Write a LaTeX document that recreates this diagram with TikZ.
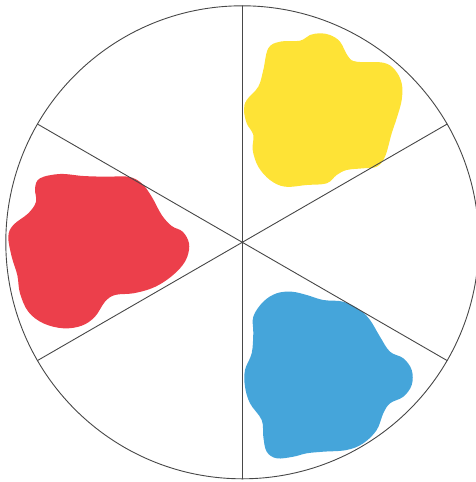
\documentclass[tikz,border=0pt]{standalone}
\usetikzlibrary{calc}
\definecolor{wheel}{HTML}{474747}
\definecolor{yellowb}{HTML}{FEE336}
\definecolor{redb}{HTML}{EC3F4B}
\definecolor{blueb}{HTML}{45A5DA}
\tikzset{
  blob/.style={draw=none},
  spoke/.style={wheel,line width=0.9pt},
}
\begin{document}
\begin{tikzpicture}[x=1pt,y=-1pt,line cap=round,line join=round]
  \useasboundingbox (0,0) rectangle (476,482);
  \coordinate (c) at (242.3,242.3);

  % paint blobs
  \fill[yellowb,blob] plot[smooth cycle,tension=0.6] coordinates {
    (320,33.3) (310,35) (300,40.7) (280,41.7) (268.3,48.3) (263.3,70)
    (258.3,86.7) (246.7,100) (244,110) (246.7,123.3) (253.3,135)
    (252.7,150) (258.3,166.7) (270,180) (285,186.7) (306.7,185)
    (326.7,183.3) (336.7,175) (346.7,170) (363.3,168.3) (376.7,166.7)
    (385,156.7) (391.7,133.3) (396.7,118.3) (401.7,100) (401.7,83.3)
    (395,70) (383.3,62.7) (356.7,61.7) (348.3,56.7) (340,41.7) (330,35)};
  \fill[redb,blob] plot[smooth cycle,tension=0.6] coordinates {
    (40,178.3) (60,174) (83.3,176) (106.7,176.7) (128.3,176.7)
    (141.7,183.3) (151.7,196.7) (161.7,215) (171.7,226) (182.7,231.7)
    (189,243.3) (187.3,256.7) (180,268.3) (166.7,280) (151.7,288.3)
    (133.3,293.3) (115,295) (105,301.7) (95,316.7) (81.7,325.7)
    (63.3,328.3) (43.3,323.3) (28.3,311.7) (20,293.3) (17.3,275)
    (11.7,256.7) (8.3,236.7) (13.3,225) (28.3,213.3) (36,201.7)
    (35,188.3)};
  \fill[blueb,blob] plot[smooth cycle,tension=0.6] coordinates {
    (291.7,291.7) (306.7,295) (323.3,300) (343.3,301.7) (360,310)
    (370,320) (380,336.7) (390,351.7) (403.3,358.3) (411.7,370)
    (411.7,385) (403.3,396.7) (390,403.3) (383.3,413.3) (376.7,430)
    (363.3,443.3) (346.7,450) (323.3,451.7) (306.7,453.3) (293.3,456.7)
    (276.7,458.3) (266.7,451.7) (263.3,436.7) (261.7,420) (250,403.3)
    (245,386.7) (245,370) (251.7,353.3) (253.3,333.3) (253.3,316.7)
    (263.3,301.7) (276.7,293.3)};

  % wheel
  \draw[spoke] (c) circle (236.5);
  \foreach \a in {30,90,150}{
    \draw[spoke] ($(c)+(\a:236.5)$) -- ($(c)+(\a+180:236.5)$);
  }
\end{tikzpicture}
\end{document}
